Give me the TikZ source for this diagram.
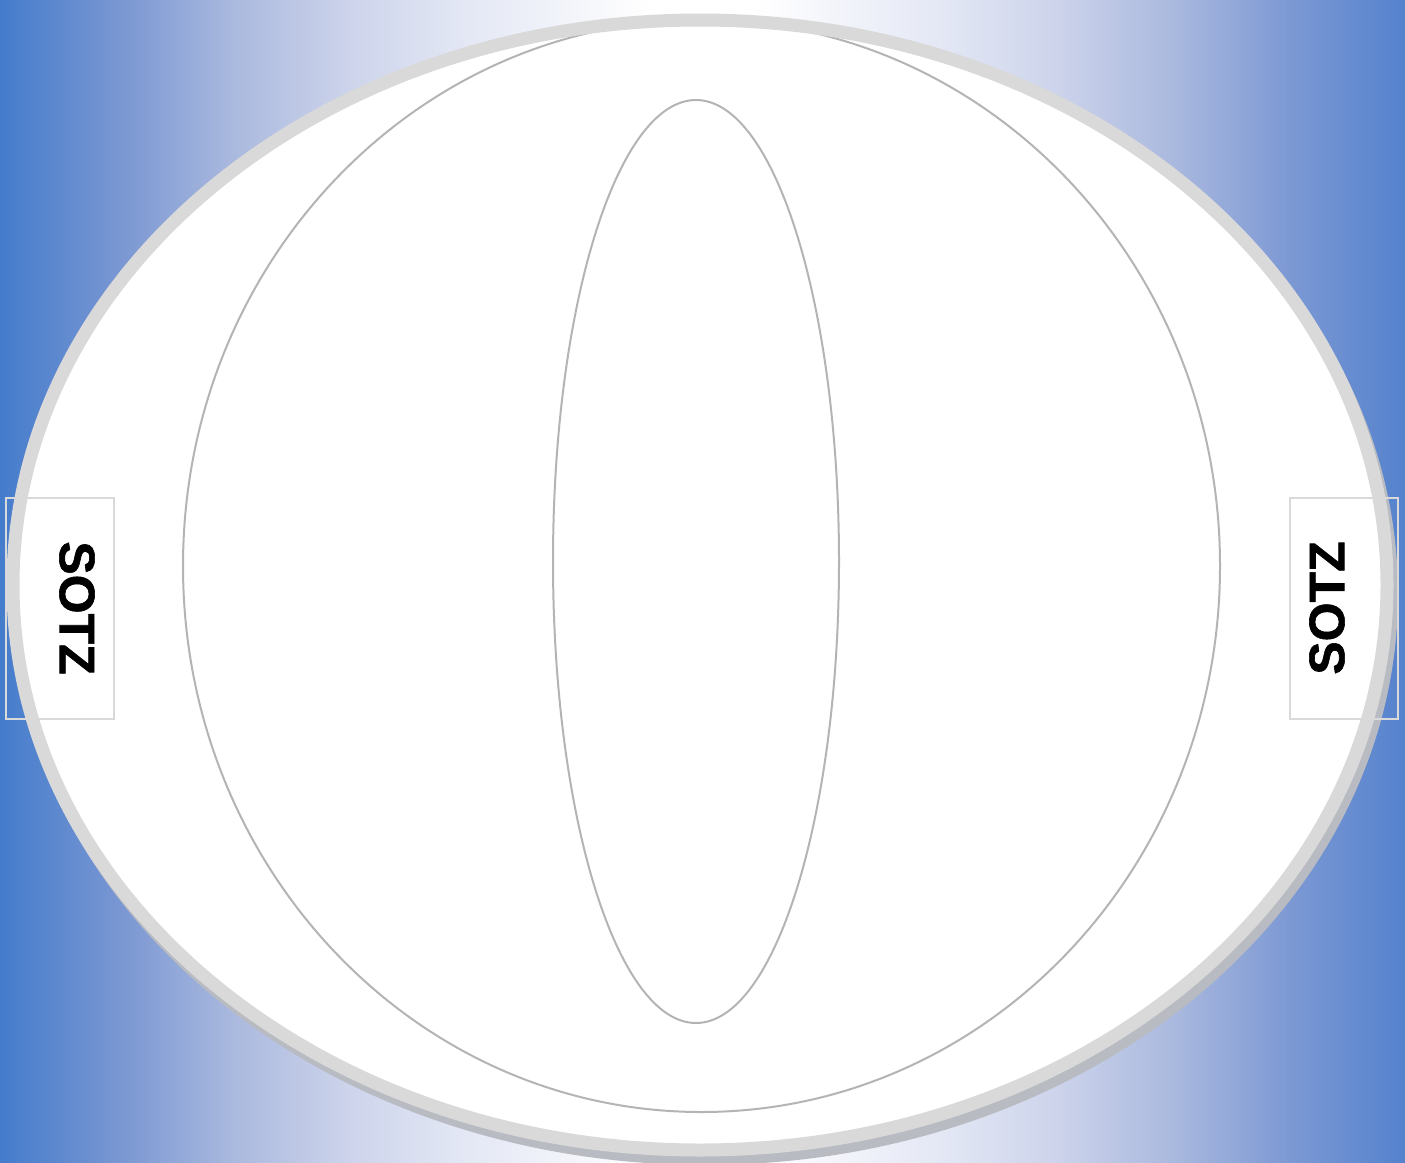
\documentclass[tikz,border=0pt]{standalone}
\usepackage{fontspec}
\setmainfont{Liberation Sans}
\newfontfamily\heavyfont[FakeBold=1.2]{Liberation Sans Bold}
\definecolor{ringgray}{HTML}{D9D9D9}
\definecolor{linegray}{HTML}{B4B4B4}
\definecolor{shadowgray}{HTML}{B9BBC2}
\pgfdeclarehorizontalshading{bgshade}{100bp}{%
  rgb(0bp)=(0.267,0.486,0.800);
  rgb(25bp)=(0.267,0.486,0.800);
  rgb(29.16bp)=(0.471,0.588,0.824);
  rgb(33.29bp)=(0.667,0.725,0.871);
  rgb(37.46bp)=(0.804,0.831,0.922);
  rgb(41.62bp)=(0.894,0.910,0.961);
  rgb(45.75bp)=(0.961,0.965,0.984);
  rgb(48.13bp)=(1,1,1);
  rgb(51.87bp)=(1,1,1);
  rgb(54.25bp)=(0.961,0.965,0.984);
  rgb(58.38bp)=(0.894,0.910,0.961);
  rgb(62.54bp)=(0.804,0.831,0.922);
  rgb(66.71bp)=(0.667,0.725,0.871);
  rgb(70.84bp)=(0.490,0.600,0.830);
  rgb(75bp)=(0.330,0.510,0.805);
  rgb(100bp)=(0.330,0.510,0.805)}
\begin{document}
\begin{tikzpicture}[x=1pt,y=-1pt,
  ring/.style={draw=ringgray,line width=13pt},
  guide/.style={draw=linegray,line width=2pt},
  sidebox/.style={draw=ringgray,line width=2pt,minimum width=108pt,minimum height=221pt,inner sep=0pt},
  sidetext/.style={font=\heavyfont\fontsize{50}{50}\selectfont,text=black}]
\useasboundingbox (0,0) rectangle (1405,1162);
\shade[shading=bgshade] (0,0) rectangle (1405,1162);
% shadow
\fill[shadowgray] (705,594) ellipse [x radius=693, y radius=571];
% outer disc
\fill[white] (700,585) ellipse [x radius=687, y radius=565];
% inner guides
\draw[guide] (701.5,566) ellipse [x radius=518.5, y radius=546];
\draw[guide] (696,561.5) ellipse [x radius=143, y radius=461.5];
% outer ring stroke
\draw[ring] (700,585) ellipse [x radius=687, y radius=565];
% side boxes
\node[sidebox] (lbox) at (60,608.5) {};
\node[sidebox] (rbox) at (1344,608.5) {};
\node[sidetext,rotate=-90] (ltext) at (77,608) {SOTZ};
\node[sidetext,rotate=90] (rtext) at (1327,608) {SOTZ};
\end{tikzpicture}
\end{document}
